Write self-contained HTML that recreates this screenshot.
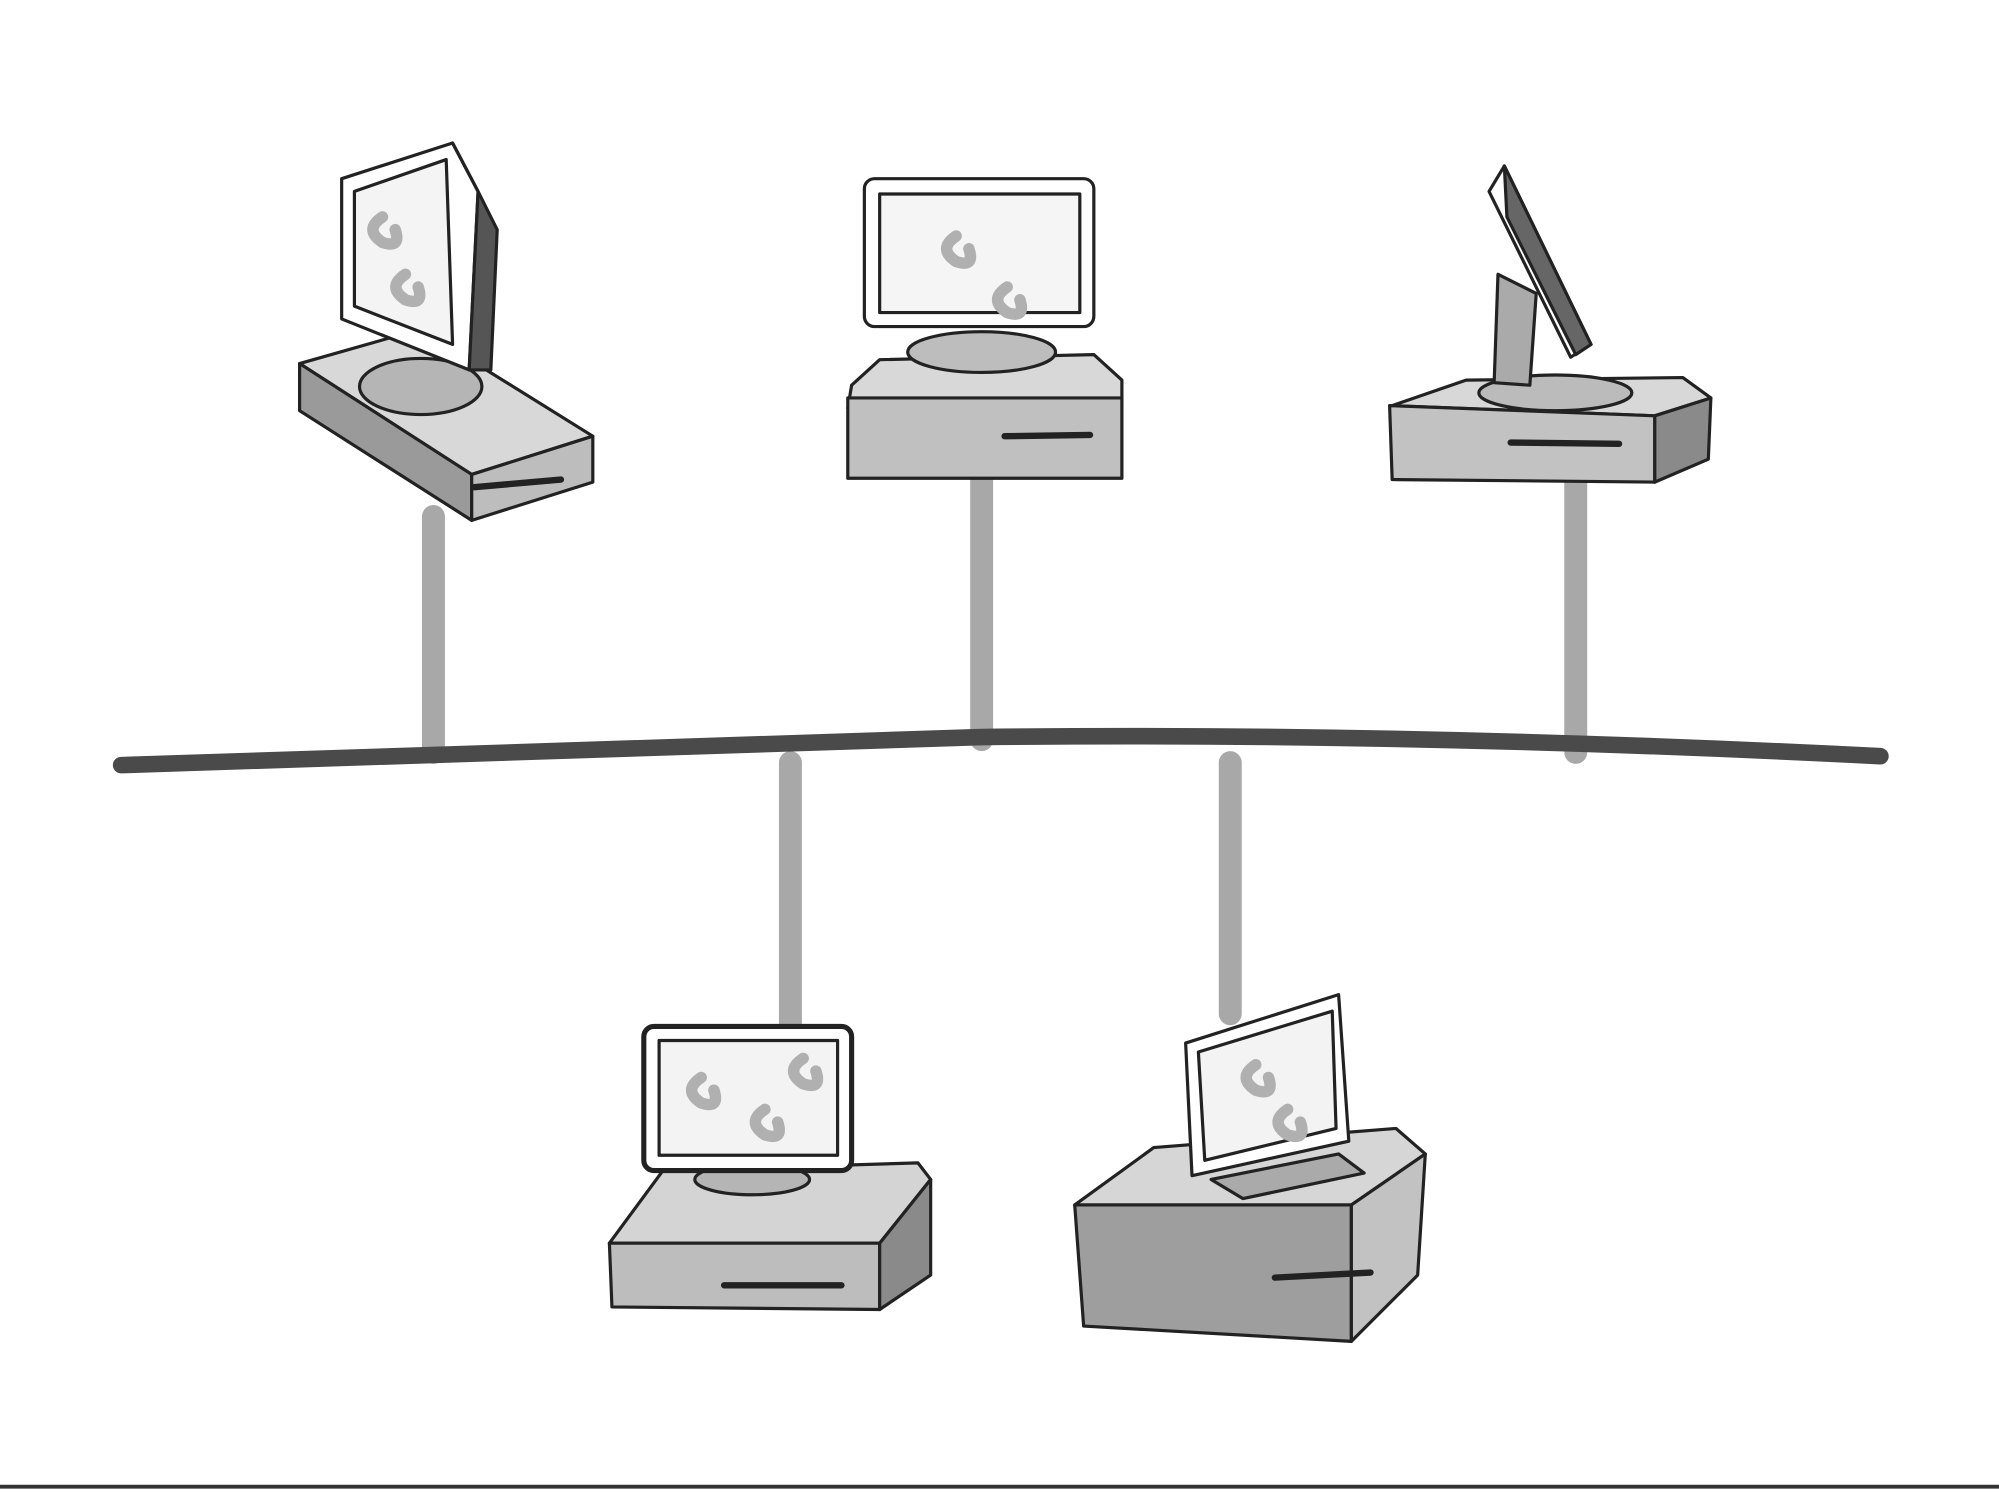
<!DOCTYPE html>
<html><head><meta charset="utf-8"><style>html,body{margin:0;padding:0;background:#fff}svg{display:block}</style></head>
<body>
<svg width="1999" height="1492" viewBox="0 0 1568 1170" xmlns="http://www.w3.org/2000/svg">
<g fill="none" stroke-linecap="round" stroke-linejoin="round">
<!-- drops -->
<g stroke="#a8a8a8" stroke-width="18">
<line x1="340" y1="405" x2="340" y2="590"/>
<line x1="770" y1="372" x2="770" y2="580"/>
<line x1="1236" y1="378" x2="1236" y2="590"/>
<line x1="620" y1="598" x2="620" y2="805"/>
<line x1="965" y1="598" x2="965" y2="795"/>
</g>
<!-- bus -->
<path d="M95 600 Q400 590 770 578 Q1100 574 1475 593" stroke="#4a4a4a" stroke-width="13"/>
<line x1="0" y1="1166" x2="1568" y2="1166" stroke="#333" stroke-width="3"/>

<!-- computer 1 -->
<g stroke="#222" stroke-width="2.5">
<polygon points="235,285 330,258 465,342 370,372" fill="#d8d8d8"/>
<polygon points="235,285 370,372 370,408 235,322" fill="#9a9a9a"/>
<polygon points="370,372 465,342 465,378 370,408" fill="#bdbdbd"/>
<line x1="372" y1="382" x2="440" y2="376" stroke-width="5"/>
<ellipse cx="330" cy="303" rx="48" ry="22" fill="#b5b5b5"/>
<polygon points="268,140 355,112 375,150 368,290 268,250" fill="#fff"/>
<polygon points="355,112 375,150 390,180 385,290 368,290 375,150" fill="#555"/>
<polygon points="278,150 350,125 355,270 278,240" fill="#f4f4f4"/>
</g>
<g stroke="#b0b0b0" stroke-width="9"><path d="M300 170 q-15 10 0 20 q15 5 10-10"/><path d="M318 215 q-15 10 0 20 q15 5 10-10"/></g>

<!-- computer 2 -->
<g stroke="#222" stroke-width="2.5">
<polygon points="668,302 690,282 858,278 880,298 880,318 665,320" fill="#d8d8d8"/>
<rect x="665" y="312" width="215" height="63" fill="#c0c0c0"/>
<line x1="788" y1="342" x2="855" y2="341" stroke-width="5"/>
<ellipse cx="770" cy="276" rx="58" ry="16" fill="#bdbdbd"/>
<rect x="678" y="140" width="180" height="116" rx="8" fill="#fff"/>
<rect x="690" y="152" width="157" height="93" fill="#f5f5f5"/>
</g>
<g stroke="#b0b0b0" stroke-width="9"><path d="M750 185 q-15 10 0 20 q15 5 10-10"/><path d="M790 225 q-15 10 0 20 q15 5 10-10"/></g>

<!-- computer 3 -->
<g stroke="#222" stroke-width="2.5">
<polygon points="1092,318 1150,298 1320,296 1342,312 1298,326" fill="#d8d8d8"/>
<polygon points="1090,318 1298,326 1298,378 1092,376" fill="#c2c2c2"/>
<polygon points="1298,326 1342,312 1340,360 1298,378" fill="#8a8a8a"/>
<line x1="1185" y1="347" x2="1270" y2="348" stroke-width="5"/>
<ellipse cx="1220" cy="308" rx="60" ry="14" fill="#bbb"/>
<path d="M1175 215 L1172 300 L1200 302 L1205 230 Z" fill="#aaa"/>
<polygon points="1180,130 1168,150 1232,280 1248,270" fill="#fff"/>
<polygon points="1180,130 1248,270 1236,278 1182,170" fill="#666"/>
</g>

<!-- computer 4 -->
<g stroke="#222" stroke-width="2.5">
<polygon points="478,975 520,918 720,912 730,925 690,975" fill="#d4d4d4"/>
<polygon points="478,975 690,975 690,1027 480,1025" fill="#bdbdbd"/>
<polygon points="690,975 730,925 730,1000 690,1027" fill="#8a8a8a"/>
<line x1="568" y1="1008" x2="660" y2="1008" stroke-width="5"/>
<ellipse cx="590" cy="925" rx="45" ry="12" fill="#b5b5b5"/>
<rect x="505" y="805" width="163" height="113" rx="8" fill="#fff" stroke-width="4"/>
<rect x="517" y="816" width="140" height="90" fill="#f3f3f3"/>
</g>
<g stroke="#b0b0b0" stroke-width="9"><path d="M550 845 q-15 10 0 20 q15 5 10-10"/><path d="M630 830 q-15 10 0 20 q15 5 10-10"/><path d="M600 870 q-15 10 0 20 q15 5 10-10"/></g>

<!-- computer 5 -->
<g stroke="#222" stroke-width="2.5">
<polygon points="843,945 905,900 1095,885 1118,905 1060,945" fill="#d6d6d6"/>
<polygon points="843,945 1060,945 1060,1052 850,1040" fill="#9e9e9e"/>
<polygon points="1060,945 1118,905 1112,1000 1060,1052" fill="#c2c2c2"/>
<line x1="1000" y1="1002" x2="1075" y2="998" stroke-width="5"/>
<polygon points="950,925 1050,905 1070,920 975,940" fill="#aaa"/>
<polygon points="930,818 1050,780 1058,895 935,922" fill="#fff"/>
<polygon points="940,825 1045,793 1048,885 945,910" fill="#f3f3f3"/>
</g>
<g stroke="#b0b0b0" stroke-width="9"><path d="M985 835 q-15 10 0 20 q15 5 10-10"/><path d="M1010 870 q-15 10 0 20 q15 5 10-10"/></g>
</g>
</svg>
</body></html>
